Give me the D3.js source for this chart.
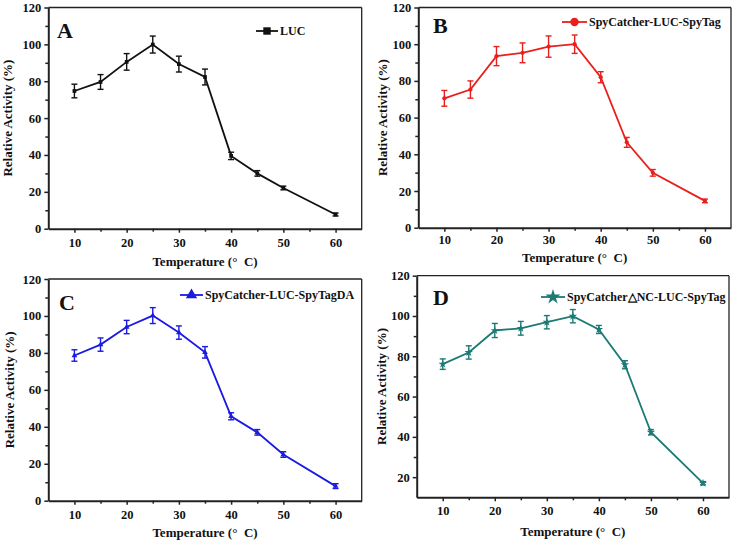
<!DOCTYPE html>
<html><head><meta charset="utf-8">
<script src="https://cdn.jsdelivr.net/npm/d3@7"></script>
<style>
body{margin:0;background:#fff;}
svg text{font-family:"Liberation Serif","Times New Roman",serif;font-weight:bold;fill:#111;}
</style></head>
<body><svg id="c" width="733" height="541"></svg>
<script>
const temps = [10, 15, 20, 25, 30, 35, 40, 45, 50, 60];
const lucVals = [74.7, 79.6, 90.5, 99.9, 89.3, 82.3, 39.5, 30.0, 22.1, 7.7];
const lucErr  = [3.7, 4.0, 4.5, 4.6, 4.3, 4.3, 2.0, 1.5, 1.0, 0.8];
const bVals = [70.5, 75.3, 93.5, 95.3, 98.7, 100.0, 82.0, 46.5, 29.9, 14.6];
const bErr  = [4.3, 4.7, 5.2, 5.4, 5.8, 5.0, 3.0, 2.7, 1.8, 1.0];
const cVals = [78.6, 84.5, 94.0, 100.2, 91.0, 80.3, 45.7, 37.0, 25.0, 7.9];
const cErr  = [3.1, 3.6, 3.6, 4.3, 3.6, 3.1, 1.9, 1.5, 1.5, 1.3];
const dVals = [76.1, 81.9, 92.8, 93.9, 96.9, 99.9, 93.3, 75.8, 42.3, 17.0];
const dErr  = [2.6, 3.3, 3.5, 3.4, 3.3, 3.3, 2.0, 2.0, 1.3, 0.8];
const panelLetters = ["A", "B", "C", "D"];
const seriesNames = ["LUC", "SpyCatcher-LUC-SpyTag", "SpyCatcher-LUC-SpyTagDA", "SpyCatcher\u25B3NC-LUC-SpyTag"];
const xMajorTicks = [10, 20, 30, 40, 50, 60];
const xMinorTicks = [15, 25, 35, 45, 55];
const yMajorTicksA = [0, 20, 40, 60, 80, 100, 120];
const yMinorTicksA = [10, 30, 50, 70, 90, 110];
const yMajorTicksD = [20, 40, 60, 80, 100, 120];
const yMinorTicksD = [30, 50, 70, 90, 110];

const panels = [
  {vals: lucVals, err: lucErr, color: "#111111", sym: d3.symbolSquare,
   box: {l: 48.3, r: 361.7, t: 7.5, b: 228.7}, yDom: [0, 120], yMaj: yMajorTicksA, yMin: yMinorTicksA,
   letter: {x: 57, y: 38}, leg: {x1: 256, x2: 278, y: 31}, yTitleX: 2, xTitleY: 266, pad: 5},
  {vals: bVals, err: bErr, color: "#e8201c", sym: d3.symbolCircle,
   box: {l: 418.3, r: 731, t: 7.5, b: 227.7}, yDom: [0, 120], yMaj: yMajorTicksA, yMin: yMinorTicksA,
   letter: {x: 433, y: 33}, leg: {x1: 562, x2: 587, y: 22}, yTitleX: 377, xTitleY: 262, pad: 3},
  {vals: cVals, err: cErr, color: "#1a1ae0", sym: d3.symbolTriangle,
   box: {l: 48.3, r: 361.7, t: 279, b: 500.7}, yDom: [0, 120], yMaj: yMajorTicksA, yMin: yMinorTicksA,
   letter: {x: 59, y: 310}, leg: {x1: 180, x2: 203, y: 295}, yTitleX: 4, xTitleY: 537, pad: 5},
  {vals: dVals, err: dErr, color: "#1b7a74", sym: d3.symbolStar,
   box: {l: 416.7, r: 729, t: 275.7, b: 497.3}, yDom: [10, 120], yMaj: yMajorTicksD, yMin: yMinorTicksD,
   letter: {x: 433, y: 305}, leg: {x1: 541, x2: 565, y: 297}, yTitleX: 376, xTitleY: 536, pad: 5}
];

const svg = d3.select("#c");

panels.forEach((p, i) => {
  const {l, r, t, b} = p.box;
  const x = d3.scaleLinear().domain([5, 65]).range([l, r]);
  const y = d3.scaleLinear().domain(p.yDom).range([b, t]);
  const g = svg.append("g");

  g.append("line").attr("x1", l).attr("x2", r).attr("y1", t).attr("y2", t).attr("stroke", "#222").attr("stroke-width", 1.3);
  g.append("line").attr("x1", r).attr("x2", r).attr("y1", t).attr("y2", b).attr("stroke", "#222").attr("stroke-width", 1.3);

  const xAxis = g.append("g").attr("transform", `translate(0,${b})`)
    .call(d3.axisBottom(x).tickValues(xMajorTicks).tickSize(4).tickSizeOuter(0).tickPadding(p.pad).tickFormat(d3.format("d")));
  xAxis.selectAll("text").attr("font-size", 12.5);
  g.append("g").attr("transform", `translate(0,${b})`)
    .call(d3.axisBottom(x).tickValues(xMinorTicks).tickSize(3).tickSizeOuter(0).tickFormat(""))
    .call(s => s.select(".domain").remove());

  const yAxis = g.append("g").attr("transform", `translate(${l},0)`)
    .call(d3.axisLeft(y).tickValues(p.yMaj).tickSize(4).tickSizeOuter(0).tickPadding(3).tickFormat(d3.format("d")));
  yAxis.selectAll("text").attr("font-size", 12.5);
  g.append("g").attr("transform", `translate(${l},0)`)
    .call(d3.axisLeft(y).tickValues(p.yMin).tickSize(3).tickSizeOuter(0).tickFormat(""))
    .call(s => s.select(".domain").remove());
  g.selectAll(".domain").attr("stroke", "#222").attr("stroke-width", 2);
  g.selectAll(".tick line").attr("stroke", "#222").attr("stroke-width", 1.5);
  g.selectAll(".tick text").attr("fill", "#111");

  g.append("text").attr("x", (l + r) / 2).attr("y", p.xTitleY).attr("text-anchor", "middle")
    .attr("font-size", 13).attr("xml:space", "preserve").text("Temperature (\u00B0  C)");
  g.append("text").attr("transform", `translate(${p.yTitleX},${(t + b) / 2}) rotate(-90)`)
    .attr("text-anchor", "middle").attr("dominant-baseline", "hanging").attr("font-size", 13).text("Relative Activity (%)");

  g.append("text").attr("x", p.letter.x).attr("y", p.letter.y).attr("font-size", 22).text(panelLetters[i]);

  const pts = temps.map((tv, k) => ({t: tv, v: p.vals[k], e: p.err[k]}));
  g.append("path").datum(pts)
    .attr("fill", "none").attr("stroke", p.color).attr("stroke-width", 1.8)
    .attr("d", d3.line().x(d => x(d.t)).y(d => y(d.v)));

  const eb = g.append("g").attr("stroke", p.color).attr("stroke-width", 1.4);
  pts.forEach(d => {
    const cx = x(d.t), y1 = y(d.v - d.e), y2 = y(d.v + d.e);
    eb.append("line").attr("x1", cx).attr("x2", cx).attr("y1", y1).attr("y2", y2);
    eb.append("line").attr("x1", cx - 3).attr("x2", cx + 3).attr("y1", y1).attr("y2", y1);
    eb.append("line").attr("x1", cx - 3).attr("x2", cx + 3).attr("y1", y2).attr("y2", y2);
  });

  const sym = d3.symbol().type(p.sym).size(p.sym === d3.symbolStar ? 22 : 14);
  g.selectAll(".pt").data(pts).join("path").attr("class", "pt")
    .attr("transform", d => `translate(${x(d.t)},${y(d.v)})`)
    .attr("d", sym).attr("fill", p.color);

  g.append("line").attr("x1", p.leg.x1).attr("x2", p.leg.x2).attr("y1", p.leg.y).attr("y2", p.leg.y)
    .attr("stroke", p.color).attr("stroke-width", 1.8);
  g.append("path").attr("transform", `translate(${(p.leg.x1 + p.leg.x2) / 2},${p.leg.y})`)
    .attr("d", d3.symbol().type(p.sym).size(p.sym === d3.symbolStar ? 70 : 55)).attr("fill", p.color);
  g.append("text").attr("x", p.leg.x2 + 2).attr("y", p.leg.y + 4).attr("font-size", 12).text(seriesNames[i]);
});
</script></body></html>
